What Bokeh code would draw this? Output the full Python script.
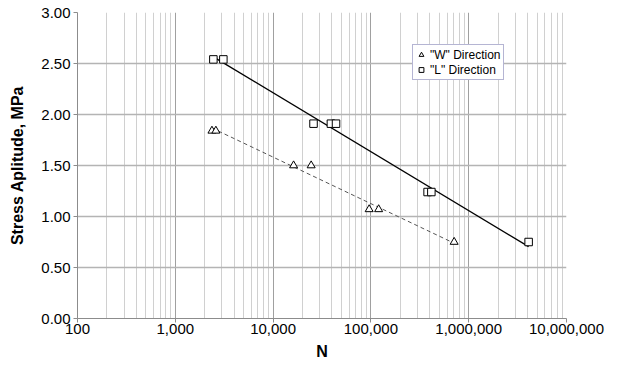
import numpy as np
from bokeh.plotting import figure
from bokeh.models import (Range1d, FixedTicker, NumeralTickFormatter, Legend, LegendItem)
from bokeh.embed import file_html
from bokeh.resources import INLINE

# Data
w_n = [2370, 2600, 16200, 24500, 96000, 120000, 710000]
w_s = [1.84, 1.84, 1.50, 1.50, 1.07, 1.07, 0.75]
l_n = [2450, 3100, 25900, 39000, 44000, 380000, 415000, 4100000]
l_s = [2.54, 2.54, 1.91, 1.91, 1.91, 1.24, 1.24, 0.75]

x_ticks = [100, 1000, 10000, 100000, 1000000, 10000000]
x_minor = [m * d for d in x_ticks[:-1] for m in range(2, 10)]
y_ticks = [0.0, 0.5, 1.0, 1.5, 2.0, 2.5, 3.0]

FONT = "Liberation Sans"

p = figure(width=610, height=362, x_axis_type="log",
           x_range=Range1d(100, 10000000), y_range=Range1d(0, 3),
           output_backend="svg", toolbar_location=None,
           min_border_left=77, min_border_right=44, min_border_top=12, min_border_bottom=44)
p.outline_line_color = None
p.background_fill_color = "white"
p.border_fill_color = "white"

# axes
p.xaxis.ticker = FixedTicker(ticks=x_ticks, minor_ticks=x_minor)
p.yaxis.ticker = FixedTicker(ticks=y_ticks)
p.xaxis.formatter = NumeralTickFormatter(format="0,0")
p.yaxis.formatter = NumeralTickFormatter(format="0.00")
for ax in (p.xaxis[0], p.yaxis[0]):
    ax.axis_line_color = "#8c8c8c"
    ax.major_tick_line_color = "#8c8c8c"
    ax.major_tick_in = 0
    ax.major_tick_out = 4
    ax.minor_tick_line_color = None
    ax.major_label_text_font = FONT
    ax.major_label_text_font_size = "15px"
    ax.major_label_text_color = "black"
    ax.axis_label_text_font = FONT
    ax.axis_label_text_font_size = "16px"
    ax.axis_label_text_font_style = "bold"
    ax.axis_label_text_color = "black"
p.xaxis.axis_label = "N"
p.yaxis.axis_label = "Stress Aplitude, MPa"
p.xaxis.major_label_standoff = 1
p.xaxis.axis_label_standoff = 6
p.yaxis.major_label_standoff = 3
p.yaxis.axis_label_standoff = 12

# grids
p.xgrid.ticker = FixedTicker(ticks=x_ticks, minor_ticks=x_minor)
p.ygrid.ticker = FixedTicker(ticks=y_ticks)
p.xgrid.grid_line_color = "#a0a0a0"
p.xgrid.minor_grid_line_color = "#d0d0d0"
p.ygrid.grid_line_color = "#b4b4b4"
p.ygrid.grid_line_width = 1.5

# trendlines (least squares in log10(N))
def trend(n, s):
    lx = np.log10(n)
    b, a = np.polyfit(lx, s, 1)
    xs = np.array([min(n), max(n)])
    return xs, a + b * np.log10(xs)

lx, ly = trend(l_n, l_s)
wx, wy = trend(w_n, w_s)
p.line(lx, ly, line_color="black", line_width=1.3)
p.line(wx, wy, line_color="#555555", line_width=1, line_dash="4 3")

rw = p.scatter(w_n, w_s, marker="triangle", size=8, line_color="black",
               fill_color="white", line_width=1)
rl = p.scatter(l_n, l_s, marker="square", size=7.5, line_color="black",
               fill_color="white", line_width=1)

legend = Legend(items=[LegendItem(label='"W" Direction', renderers=[rw]),
                       LegendItem(label='"L" Direction', renderers=[rl])],
                location=(335, 238))
legend.border_line_color = "#6b6ba8"
legend.border_line_width = 1
legend.background_fill_color = "white"
legend.background_fill_alpha = 1
legend.label_text_font = FONT
legend.label_text_font_size = "12px"
legend.label_text_color = "black"
legend.glyph_width = 12
legend.glyph_height = 15
legend.label_height = 15
legend.label_standoff = 3
legend.padding = 2
legend.spacing = 0
legend.margin = 0
p.add_layout(legend, "center")

open("out.html", "w").write(file_html(p, INLINE))
